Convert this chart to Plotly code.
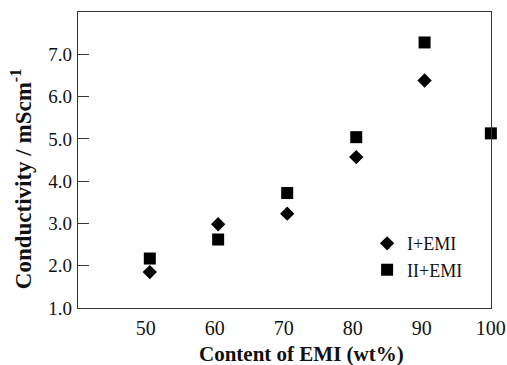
import plotly.graph_objects as go

content_I = [50.6, 60.5, 70.5, 80.5, 90.4]
cond_I = [1.85, 2.98, 3.23, 4.57, 6.38]
content_II = [50.6, 60.5, 70.5, 80.5, 90.4, 100.0]
cond_II = [2.17, 2.62, 3.72, 5.04, 7.28, 5.13]
x_ticks = [50, 60, 70, 80, 90, 100]
y_ticks = [1, 2, 3, 4, 5, 6, 7]

FONT = "Liberation Serif"

fig = go.Figure()
fig.add_trace(go.Scatter(x=content_I, y=cond_I, mode="markers", name="I+EMI",
                         marker=dict(symbol="diamond", size=11, color="black"), cliponaxis=False))
fig.add_trace(go.Scatter(x=content_II, y=cond_II, mode="markers", name="II+EMI",
                         marker=dict(symbol="square", size=12, color="black"), cliponaxis=False))

fig.update_layout(
    width=507, height=365,
    margin=dict(l=78, r=16, t=12, b=57),
    paper_bgcolor="white", plot_bgcolor="white",
    font=dict(family=FONT, size=19, color="#111"),
    showlegend=True,
    legend=dict(x=0.70, y=0.28, xanchor="left", yanchor="top", bgcolor="rgba(0,0,0,0)",
                font=dict(family=FONT, size=18, color="#111"), itemwidth=30, tracegroupgap=0),
    xaxis=dict(range=[40.2, 100.02], tickvals=x_ticks, ticktext=[str(v) for v in x_ticks],
               ticks="", showgrid=False, zeroline=False, showline=True, linecolor="#333",
               linewidth=1.2, mirror=True, ticklabelstandoff=2, ticklabeloverflow="allow",
               automargin=False, tickfont=dict(family=FONT, size=20, color="#111")),
    yaxis=dict(range=[1, 8], tickvals=y_ticks, ticktext=[f"{v:.1f}" for v in y_ticks],
               ticks="inside", ticklen=11, tickcolor="#333", showgrid=False, zeroline=False,
               showline=True, linecolor="#333", linewidth=1.2, mirror=True, ticklabelstandoff=1,
               automargin=False, tickfont=dict(family=FONT, size=19, color="#111")),
    annotations=[
        dict(text="<b>Content of EMI (wt%)</b>", xref="paper", yref="paper", x=0.54, y=-0.155,
             showarrow=False, font=dict(family=FONT, size=21, color="#111"), xanchor="center", yanchor="middle"),
        dict(text="<b>Conductivity / mScm<sup>-1</sup></b>", xref="paper", yref="paper", x=-0.135, y=0.436,
             showarrow=False, textangle=-90, font=dict(family=FONT, size=23, color="#111"),
             xanchor="center", yanchor="middle"),
    ],
)

fig.write_html("out.html")
